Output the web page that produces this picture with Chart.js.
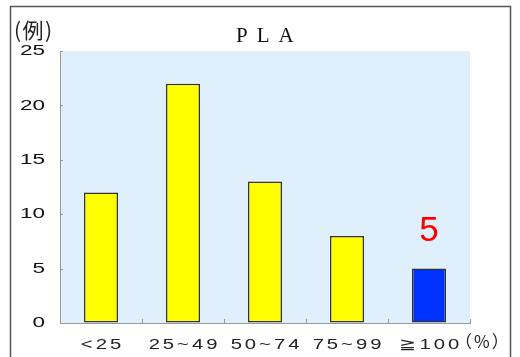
<!DOCTYPE html>
<html>
<head>
<meta charset="utf-8">
<script src="https://cdn.jsdelivr.net/npm/chart.js@4/dist/chart.umd.min.js"></script>
<style>
html,body{margin:0;padding:0;background:#fff;}
#wrap{width:520px;height:357px;position:relative;}
</style>
</head>
<body>
<div id="wrap"><canvas id="c" width="520" height="357"></canvas></div>
<script>
const categories = ["<25", "25~49", "50~74", "75~99", "≧100"];
const counts = [12, 22, 13, 8, 5];
const barColors = ["#FFFF00", "#FFFF00", "#FFFF00", "#FFFF00", "#0033FF"];
const yTicks = [0, 5, 10, 15, 20, 25];
const highlightIndex = 4;
const titleText = "PLA";

// draw a scale's tick labels horizontally widened (wide gothic-style digits)
function widen(scale, sx, px, shift) {
  if (scale._widened) return;
  const orig = scale.drawLabels;
  scale.drawLabels = function (area) {
    const ctx = this.ctx;
    const proto = Object.getPrototypeOf(ctx).fillText;
    ctx.save();
    ctx.fillText = function (t, x, y) {
      this.save();
      this.translate(x + shift, y);
      this.scale(sx, 1);
      try { this.letterSpacing = px; } catch (e) {}
      proto.call(this, t, 0, 0);
      this.restore();
    };
    try { orig.call(this, area); } finally { delete ctx.fillText; ctx.restore(); }
  };
  scale._widened = true;
}

const decor = {
  id: 'decor',
  beforeDraw(chart) {
    const {ctx, chartArea: a} = chart;
    ctx.save();
    ctx.fillStyle = '#fff';
    ctx.fillRect(0, 0, chart.width, chart.height);
    ctx.strokeStyle = '#555';
    ctx.lineWidth = 1.5;
    ctx.strokeRect(10.5, 6.5, 500, 400);
    ctx.fillStyle = '#DFF0FC';
    ctx.fillRect(a.left, a.top, a.right - a.left, a.bottom - a.top);
    ctx.restore();
  },
  afterDraw(chart) {
    const {ctx, chartArea: a, scales} = chart;
    ctx.save();
    ctx.strokeStyle = '#999';
    ctx.lineWidth = 1;
    yTicks.forEach(v => {
      const y = Math.round(scales.y.getPixelForValue(v)) + 0.5;
      ctx.beginPath(); ctx.moveTo(a.left, y); ctx.lineTo(a.left + 3, y); ctx.stroke();
    });
    const n = categories.length;
    for (let i = 0; i <= n; i++) {
      const x = Math.round(a.left + (a.right - a.left) * i / n) + 0.5;
      ctx.beginPath(); ctx.moveTo(x, a.bottom); ctx.lineTo(x, a.bottom - 4); ctx.stroke();
    }
    // value label
    const meta = chart.getDatasetMeta(0);
    const bar = meta.data[highlightIndex];
    ctx.fillStyle = '#FF0000';
    ctx.font = '35px "Liberation Sans", Arial, sans-serif';
    ctx.textAlign = 'center';
    ctx.textBaseline = 'middle';
    ctx.fillText(String(counts[highlightIndex]), bar.x, bar.y - 37);
    // title
    ctx.fillStyle = '#111';
    ctx.font = '21px "Liberation Serif", "Times New Roman", serif';
    ctx.textBaseline = 'alphabetic';
    ctx.textAlign = 'left';
    try { ctx.letterSpacing = '9px'; } catch (e) {}
    ctx.fillText(titleText, 236, 42);
    // unit labels
    ctx.fillStyle = '#222';
    ctx.font = '21px "Noto Sans CJK JP", sans-serif';
    try { ctx.letterSpacing = '1.5px'; } catch (e) {}
    ctx.fillText('(例)', 14, 38);
    ctx.font = '17px "Noto Sans CJK JP", sans-serif';
    try { ctx.letterSpacing = '2px'; } catch (e) {}
    ctx.fillText('（%）', 455, 348);
    ctx.restore();
  }
};

new Chart(document.getElementById('c'), {
  type: 'bar',
  data: {
    labels: categories,
    datasets: [{
      data: counts,
      backgroundColor: barColors,
      borderColor: '#333333',
      borderWidth: 1.5,
      borderSkipped: false,
      barPercentage: 0.415,
      categoryPercentage: 1.0
    }]
  },
  options: {
    responsive: false,
    animation: false,
    devicePixelRatio: 1,
    layout: { padding: { left: 10, right: 50, top: 51, bottom: 0 } },
    plugins: {
      legend: { display: false },
      tooltip: { enabled: false },
      title: { display: false }
    },
    scales: {
      x: {
        grid: { display: true, drawOnChartArea: false, drawTicks: false },
        border: { color: '#999', width: 1 },
        ticks: {
          color: '#222',
          font: { family: '"Liberation Sans", Arial, sans-serif', size: 15 },
          padding: 13,
          maxRotation: 0,
          autoSkip: false
        },
        afterFit(s) { s.height = 34; },
        afterUpdate(s) { widen(s, 1.35, '2.2px', 1.5); }
      },
      y: {
        min: 0, max: 25,
        grid: { display: true, drawOnChartArea: false, drawTicks: false },
        border: { color: '#999', width: 1 },
        ticks: {
          stepSize: 5,
          color: '#111',
          font: { family: '"Liberation Sans", Arial, sans-serif', size: 15 },
          padding: 15
        },
        afterFit(s) { s.width = 50; },
        afterUpdate(s) { widen(s, 1.5, '0px', 0); }
      }
    }
  },
  plugins: [decor]
});
</script>
</body>
</html>
